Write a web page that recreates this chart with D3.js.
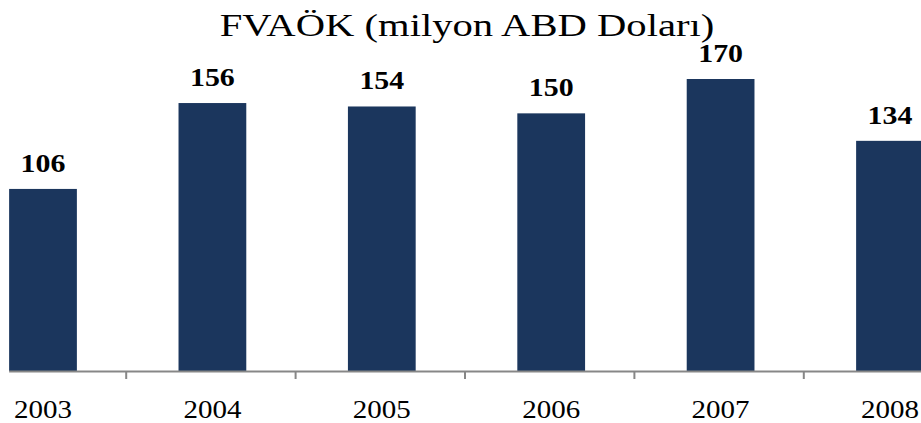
<!DOCTYPE html>
<html>
<head>
<meta charset="utf-8">
<script src="https://cdn.jsdelivr.net/npm/d3@7"></script>
<style>
  body { margin: 0; background: #fff; }
  svg { display: block; }
</style>
</head>
<body>
<svg></svg>
<script>
const title = "FVAÖK (milyon ABD Doları)";
const years = ["2003", "2004", "2005", "2006", "2007", "2008"];
const values = [106, 156, 154, 150, 170, 134];

const width = 921;
const height = 423;
const baseY = 371;
const serif = "'Liberation Serif', 'Times New Roman', serif";

const svg = d3.select("svg").attr("width", width).attr("height", height);

const x = d3
  .scaleBand()
  .domain(years)
  .range([-41.7, 974.7])
  .paddingInner(0.6)
  .paddingOuter(0.3);

const y = d3.scaleLinear().domain([0, 170]).range([baseY, 79]);

const data = years.map((yr, i) => ({ year: yr, value: values[i] }));

// bars
svg
  .selectAll("rect.bar")
  .data(data)
  .join("rect")
  .classed("bar", true)
  .attr("x", d => x(d.year))
  .attr("y", d => y(d.value))
  .attr("width", x.bandwidth())
  .attr("height", d => y(0) - y(d.value))
  .attr("fill", "#1b365d");

// axis line + ticks between categories
svg
  .append("line")
  .attr("x1", x(years[0]))
  .attr("x2", width)
  .attr("y1", baseY + 0.5)
  .attr("y2", baseY + 0.5)
  .attr("stroke", "#878787")
  .attr("stroke-width", 2);

svg
  .selectAll("line.tick")
  .data(years.slice(1))
  .join("line")
  .classed("tick", true)
  .attr("x1", d => x(d) - (x.step() * x.paddingInner()) / 2 - 1.5)
  .attr("x2", d => x(d) - (x.step() * x.paddingInner()) / 2 - 1.5)
  .attr("y1", baseY)
  .attr("y2", baseY + 8)
  .attr("stroke", "#878787")
  .attr("stroke-width", 2);

// value labels
svg
  .selectAll("g.val")
  .data(data)
  .join("g")
  .classed("val", true)
  .attr("transform", d => `translate(${x(d.year) + x.bandwidth() / 2},${y(d.value) - 17}) scale(1.15,1)`)
  .append("text")
  .attr("text-anchor", "middle")
  .attr("font-family", serif)
  .attr("font-weight", "bold")
  .attr("font-size", 26)
  .attr("fill", "#000")
  .text(d => d.value);

// year labels
svg
  .selectAll("g.yr")
  .data(years)
  .join("g")
  .classed("yr", true)
  .attr("transform", d => `translate(${x(d) + x.bandwidth() / 2},418) scale(1.16,1)`)
  .append("text")
  .attr("text-anchor", "middle")
  .attr("font-family", serif)
  .attr("font-size", 25)
  .attr("fill", "#000")
  .text(d => d);

// title
svg
  .append("g")
  .attr("transform", "translate(467,36) scale(1.27,1)")
  .append("text")
  .attr("text-anchor", "middle")
  .attr("font-family", serif)
  .attr("font-size", 32)
  .attr("fill", "#000")
  .text(title);
</script>
</body>
</html>
